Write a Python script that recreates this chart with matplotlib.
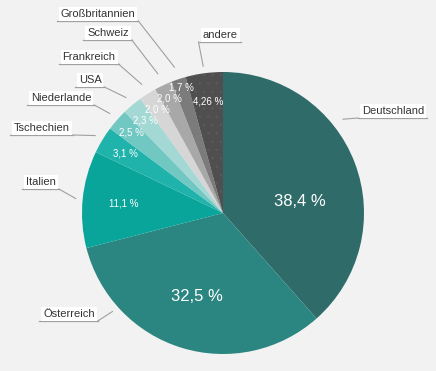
import numpy as np
import matplotlib.pyplot as plt

# data
countries = ['Deutschland', 'Österreich', 'Italien', 'Tschechien', 'Niederlande',
             'USA', 'Frankreich', 'Schweiz', 'Großbritannien', 'andere']
shares = [38.4, 32.5, 11.1, 3.1, 2.5, 2.3, 2.0, 2.0, 1.7, 4.26]
pct_text = ['38,4 %', '32,5 %', '11,1 %', '3,1 %', '2,5 %', '2,3 %', '2,0 %', '2,0 %', '1,7 %', '4,26 %']

colors = ['#2f6c69', '#2b8682', '#09a59b', '#20b3ab', '#71c7c1',
          '#a3d8d4', '#d6d6d6', '#a8a8a8', '#7b7b7b', '#4f4f4f']

plt.rcParams['hatch.linewidth'] = 0.4

W, H = 436, 371
fig = plt.figure(figsize=(W / 100, H / 100), dpi=100, facecolor='#f2f2f2')
ax = fig.add_axes([0, 0, 1, 1])

cx, cy, R = 223, H - 213, 141

wedges, _ = ax.pie(shares, colors=colors, startangle=90, counterclock=False,
                   center=(cx, cy), radius=R, wedgeprops=dict(linewidth=0))
ax.set_xlim(0, W)
ax.set_ylim(0, H)
ax.set_aspect('equal')
ax.axis('off')
wedges[-1].set_hatch('..')
wedges[-1].set_edgecolor('#5c5c5c')
wedges[-1].set_linewidth(0)

# mid angles of the slices
frac = np.array(shares) / sum(shares)
ends = 90 - 360 * np.cumsum(frac)
mids = ends + 180 * frac

# percentage labels: radius factor and size
pct_r = [0.55, 0.62, 0.71, 0.81, 0.86, 0.86, 0.87, 0.90, 0.94, 0.80]
pct_size = [12, 12, 7, 7, 7, 7, 7, 7, 7, 7]
pct_shift = [-12, 0, 0, 0, 0, 0, 0, 0, 0, 0]
for i, t in enumerate(pct_text):
    a = np.radians(mids[i] + pct_shift[i])
    ax.text(cx + pct_r[i] * R * np.cos(a), cy + pct_r[i] * R * np.sin(a), t,
            ha='center', va='center', color='white', fontsize=pct_size[i],
            family='Liberation Sans')

# category labels (pixel positions, top-left origin)
label_pos = [(393, 111), (69, 314), (41, 182), (42, 128), (61, 98),
             (90, 80), (89, 57), (108, 33), (98, 14), (220, 35)]
conn_angle = list(mids)
conn_angle[0] = 38
conn_angle[1] = 221.7
conn_r = [1.08, 1.05, 1.05, 1.06, 1.07, 1.07, 1.08, 1.09, 1.09, 1.05]

texts = []
for i, name in enumerate(countries):
    px, py = label_pos[i]
    t = ax.text(px, H - py, name, ha='center', va='center', fontsize=8,
                color='#333333', family='Liberation Sans',
                bbox=dict(boxstyle='square,pad=0.18', fc='white', ec='none', lw=0))
    texts.append(t)

fig.canvas.draw()
inv = ax.transData.inverted()
for i, t in enumerate(texts):
    bb = t.get_bbox_patch().get_window_extent()
    (x0, y0), (x1, y1) = inv.transform([(bb.x0, bb.y0), (bb.x1, bb.y1)])
    ax.plot([x0 - 2, x1 + 1], [y0, y0], color='#a0a0a0', lw=0.9, zorder=1)
    a = np.radians(conn_angle[i])
    ex = cx + conn_r[i] * R * np.cos(a)
    ey = cy + conn_r[i] * R * np.sin(a)
    sx = x0 - 2 if i in (0, 9) else x1 + 1
    ax.plot([sx, ex], [y0, ey], color='#a0a0a0', lw=0.8, zorder=1)

fig.savefig('out.png', dpi=100, facecolor=fig.get_facecolor())
